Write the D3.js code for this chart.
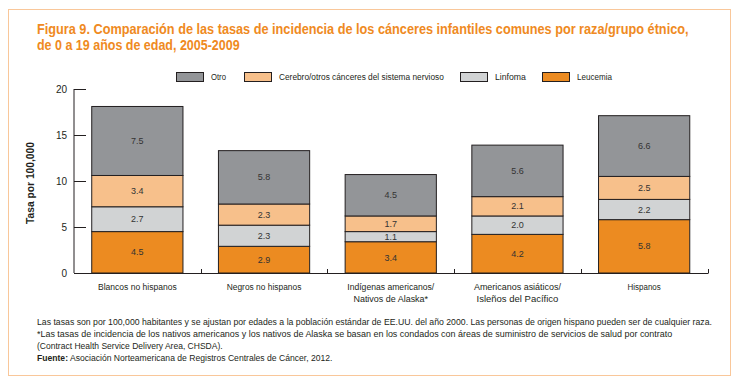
<!DOCTYPE html>
<html>
<head>
<meta charset="utf-8">
<script src="https://cdn.jsdelivr.net/npm/d3@7"></script>
<style>
  body { margin: 0; background: #fff; }
  svg { display: block; font-family: "Liberation Sans", Arial, sans-serif; }
</style>
</head>
<body>
<div id="chart"></div>
<script>
const categories = [
    ["Blancos no hispanos"],
    ["Negros no hispanos"],
    ["Indígenas americanos/", "Nativos de Alaska*"],
    ["Americanos asiáticos/", "Isleños del Pacífico"],
    ["Hispanos"]
];
const seriesNames = ["Leucemia", "Linfoma", "Cerebro/otros cánceres del sistema nervioso", "Otro"];
const leucemia = [4.5, 2.9, 3.4, 4.2, 5.8];
const linfoma = [2.7, 2.3, 1.1, 2.0, 2.2];
const cerebro = [3.4, 2.3, 1.7, 2.1, 2.5];
const otro = [7.5, 5.8, 4.5, 5.6, 6.6];
const yTicks = [0, 5, 10, 15, 20];
const legendOrder = ["Otro", "Cerebro/otros cánceres del sistema nervioso", "Linfoma", "Leucemia"];

const colors = {
    "Leucemia": "#ec8b21",
    "Linfoma": "#d1d3d4",
    "Cerebro/otros cánceres del sistema nervioso": "#f7c08b",
    "Otro": "#939598"
};

const W = 737, H = 387;
const svg = d3.select("#chart").append("svg").attr("width", W).attr("height", H);

// the original uses a condensed face: squeeze wide texts horizontally
function fit(sel, width) {
    sel.each(function () {
        const natural = this.getComputedTextLength();
        if (natural <= width) return;
        const s = width / natural;
        const t = d3.select(this);
        const ax = +t.attr("x") || 0;
        const prev = t.attr("transform") || "";
        t.attr("transform", `${prev} translate(${ax},0) scale(${s},1) translate(${-ax},0)`);
    });
    return sel;
}

// orange frame
svg.append("rect")
    .attr("x", 8.5).attr("y", 9.5).attr("width", 722).attr("height", 366)
    .attr("fill", "none").attr("stroke", "#f9c79a").attr("stroke-width", 1);

// title
const titleLines = [
    ["Figura 9. Comparación de las tasas de incidencia de los cánceres infantiles comunes por raza/grupo étnico,", 652],
    ["de 0 a 19 años de edad, 2005-2009", 203]
];
titleLines.forEach(([txt, w], i) => {
    svg.append("text")
        .attr("x", 37).attr("y", 34 + i * 16)
        .attr("fill", "#ef8a22").attr("font-weight", "bold").attr("font-size", 14.5)
        .text(txt)
        .call(fit, w);
});

// data table
const table = categories.map((c, i) => ({
    key: i,
    "Leucemia": leucemia[i],
    "Linfoma": linfoma[i],
    "Cerebro/otros cánceres del sistema nervioso": cerebro[i],
    "Otro": otro[i]
}));
const stacked = d3.stack().keys(seriesNames)(table);

const x = d3.scaleBand()
    .domain(d3.range(categories.length))
    .range([74, 707.5])
    .paddingInner(0.28)
    .paddingOuter(0.14);
const y = d3.scaleLinear().domain([0, 20]).range([273, 89]);

// bars
const layers = svg.append("g").selectAll("g")
    .data(stacked)
    .join("g")
    .attr("fill", d => colors[d.key]);

layers.selectAll("rect")
    .data(d => d)
    .join("rect")
    .attr("x", (d, i) => x(i))
    .attr("y", d => y(d[1]))
    .attr("width", x.bandwidth())
    .attr("height", d => y(d[0]) - y(d[1]))
    .attr("stroke", "#231f20")
    .attr("stroke-width", 1);

// value labels
layers.selectAll("text")
    .data(d => d.map(v => ({ v, val: v[1] - v[0] })))
    .join("text")
    .attr("x", (d, i) => x(i) + x.bandwidth() / 2)
    .attr("y", d => (y(d.v[0]) + y(d.v[1])) / 2)
    .attr("dy", "0.35em")
    .attr("text-anchor", "middle")
    .attr("font-size", 9)
    .attr("fill", "#333")
    .text(d => d.val.toFixed(1));

// y axis
const yAxis = svg.append("g")
    .attr("transform", "translate(74,0)")
    .call(d3.axisRight(y).tickValues(yTicks).tickSize(12).tickFormat(""));
yAxis.select(".domain").attr("d", "M0,89V273").attr("stroke", "#231f20");
yAxis.selectAll(".tick line").attr("stroke", "#231f20");
svg.append("g").selectAll("text")
    .data(yTicks)
    .join("text")
    .attr("x", 67).attr("y", d => y(d)).attr("dy", "0.35em")
    .attr("text-anchor", "end").attr("font-size", 10).attr("fill", "#231f20")
    .text(d => d);

// x axis with boundary ticks
const bounds = d3.range(categories.length).map(i => x(i) + x.bandwidth() + x.step() * x.paddingInner() / 2);
svg.append("line")
    .attr("x1", 74).attr("x2", bounds[bounds.length - 1] + 0.5)
    .attr("y1", 273.5).attr("y2", 273.5)
    .attr("stroke", "#231f20");
svg.append("g").selectAll("line")
    .data(bounds)
    .join("line")
    .attr("x1", d => Math.round(d) + 0.5).attr("x2", d => Math.round(d) + 0.5)
    .attr("y1", 269).attr("y2", 273.5)
    .attr("stroke", "#231f20");

// category labels
const catLabels = svg.append("g");
categories.forEach((lines, i) => {
    lines.forEach((line, j) => {
        catLabels.append("text")
            .attr("x", x(i) + x.bandwidth() / 2)
            .attr("y", 290 + j * 12)
            .attr("text-anchor", "middle").attr("font-size", 9.5).attr("fill", "#231f20")
            .text(line)
            .call(fit, line.length * 4.15);
    });
});

// y title
svg.append("text")
    .attr("transform", "translate(34,183) rotate(-90)")
    .attr("text-anchor", "middle").attr("font-size", 11).attr("font-weight", "bold")
    .attr("fill", "#231f20")
    .text("Tasa por 100,000")
    .call(fit, 82);

// legend
const legendX = [176, 244, 460, 542];
const legendW = [15, 165, 31, 35];
const lg = svg.append("g").selectAll("g")
    .data(legendOrder)
    .join("g")
    .attr("transform", (d, i) => `translate(${legendX[i]},72)`);
lg.append("rect")
    .attr("x", 0.5).attr("y", 0.5).attr("width", 27).attr("height", 9)
    .attr("fill", d => colors[d]).attr("stroke", "#231f20");
lg.append("text")
    .attr("x", 35).attr("y", 5).attr("dy", "0.35em")
    .attr("font-size", 9).attr("fill", "#231f20")
    .text(d => d)
    .each(function (d, i) { fit(d3.select(this), legendW[i]); });

// footnotes
const notes = [
    ["Las tasas son por 100,000 habitantes y se ajustan por edades a la población estándar de EE.UU. del año 2000. Las personas de origen hispano pueden ser de cualquier raza.", 675],
    ["*Las tasas de incidencia de los nativos americanos y los nativos de Alaska se basan en los condados con áreas de suministro de servicios de salud por contrato", 636],
    ["(Contract Health Service Delivery Area, CHSDA).", 186]
];
notes.forEach(([txt, w], i) => {
    svg.append("text")
        .attr("x", 37).attr("y", 325 + i * 12)
        .attr("font-size", 9.5).attr("fill", "#231f20")
        .text(txt)
        .call(fit, w);
});
const src = svg.append("text")
    .attr("x", 37).attr("y", 361)
    .attr("font-size", 9.5).attr("fill", "#231f20");
src.append("tspan").attr("font-weight", "bold").text("Fuente:");
src.append("tspan").text(" Asociación Norteamericana de Registros Centrales de Cáncer, 2012.");
src.call(fit, 296);
</script>
</body>
</html>
